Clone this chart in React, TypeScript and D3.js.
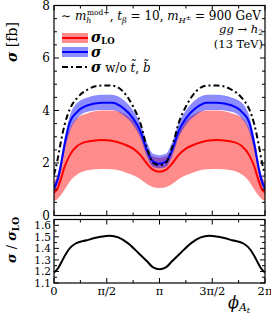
import React from "react";
import * as d3 from "d3";

// phi in units of pi
const phiTop = [0, 0.03, 0.06, 0.1, 0.15, 0.22, 0.32, 0.45, 0.55, 0.66, 0.75, 0.82, 0.88, 0.94, 1.0, 1.06, 1.12, 1.18, 1.25, 1.34, 1.45, 1.55, 1.68, 1.78, 1.85, 1.9, 1.94, 1.97, 2.0];
const sigmaLO = [0.88, 1.0, 1.32, 1.85, 2.3, 2.65, 2.82, 2.88, 2.85, 2.72, 2.55, 2.3, 1.98, 1.74, 1.67, 1.74, 1.98, 2.3, 2.55, 2.72, 2.85, 2.88, 2.82, 2.65, 2.3, 1.85, 1.32, 1.0, 0.88];
const sigmaLOUp = [1.3, 1.5, 1.95, 2.7, 3.3, 3.72, 3.9, 4.0, 4.0, 3.88, 3.6, 3.1, 2.45, 2.25, 2.2, 2.25, 2.45, 3.1, 3.6, 3.88, 4.0, 4.0, 3.9, 3.72, 3.3, 2.7, 1.95, 1.5, 1.3];
const sigmaLOLo = [0.55, 0.62, 0.75, 0.98, 1.3, 1.56, 1.72, 1.77, 1.76, 1.67, 1.53, 1.38, 1.2, 1.08, 1.05, 1.08, 1.2, 1.38, 1.53, 1.67, 1.76, 1.77, 1.72, 1.56, 1.3, 0.98, 0.75, 0.62, 0.55];
const sigma = [1.05, 1.3, 1.8, 2.7, 3.55, 3.95, 4.2, 4.3, 4.3, 4.08, 3.7, 3.2, 2.5, 2.05, 1.97, 2.05, 2.5, 3.2, 3.7, 4.08, 4.3, 4.3, 4.2, 3.95, 3.55, 2.7, 1.8, 1.3, 1.05];
const sigmaUp = [1.2, 1.5, 2.05, 2.95, 3.8, 4.3, 4.5, 4.6, 4.6, 4.4, 4.0, 3.5, 2.8, 2.35, 2.3, 2.35, 2.8, 3.5, 4.0, 4.4, 4.6, 4.6, 4.5, 4.3, 3.8, 2.95, 2.05, 1.5, 1.2];
const sigmaLo = [0.92, 1.15, 1.6, 2.45, 3.2, 3.7, 3.95, 4.02, 4.02, 3.82, 3.45, 2.95, 2.25, 1.85, 1.8, 1.85, 2.25, 2.95, 3.45, 3.82, 4.02, 4.02, 3.95, 3.7, 3.2, 2.45, 1.6, 1.15, 0.92];
const sigmaNoSq = [1.55, 2.05, 2.7, 3.45, 4.05, 4.48, 4.8, 4.95, 4.95, 4.7, 4.15, 3.5, 2.6, 2.0, 1.92, 2.0, 2.6, 3.5, 4.15, 4.7, 4.95, 4.95, 4.8, 4.48, 4.05, 3.45, 2.7, 2.05, 1.55];

const phiRatio = [0, 0.04, 0.09, 0.14, 0.2, 0.31, 0.44, 0.53, 0.61, 0.7, 0.8, 0.88, 0.94, 1.0, 1.06, 1.12, 1.2, 1.3, 1.39, 1.47, 1.56, 1.69, 1.8, 1.86, 1.91, 1.96, 2.0];
const ratio = [1.19, 1.23, 1.315, 1.39, 1.44, 1.47, 1.5, 1.51, 1.495, 1.445, 1.36, 1.29, 1.235, 1.22, 1.235, 1.29, 1.36, 1.445, 1.495, 1.51, 1.5, 1.47, 1.44, 1.39, 1.315, 1.23, 1.19];

const xTicks = [0, 0.5, 1, 1.5, 2];
const xTickLabels = ["0", "π/2", "π", "3π/2", "2π"];
const yTopTicks = [0, 2, 4, 6, 8];
const yBotTicks = [1.1, 1.2, 1.3, 1.4, 1.5, 1.6];

const FONT = "'DejaVu Serif', 'Liberation Serif', serif";

export default function App() {
  const x = d3.scaleLinear().domain([0, 2]).range([54, 265]);
  const yT = d3.scaleLinear().domain([0, 8]).range([215.5, 5.5]);
  const yB = d3.scaleLinear().domain([1.1, 1.65]).range([283, 219.5]);

  const idx = d3.range(phiTop.length);
  const curve = d3.curveMonotoneX;
  const band = (up: number[], lo: number[]) =>
    d3.area<number>().x(i => x(phiTop[i])).y0(i => yT(lo[i])).y1(i => yT(up[i])).curve(curve)(idx) || "";
  const line = (v: number[]) =>
    d3.line<number>().x(i => x(phiTop[i])).y(i => yT(v[i])).curve(curve)(idx) || "";
  const ratioPath =
    d3.line<number>().x(i => x(phiRatio[i])).y(i => yB(ratio[i])).curve(curve)(d3.range(phiRatio.length)) || "";

  const minorX = d3.range(0, 2.01, 0.25);
  const minorYT = d3.range(0, 8.01, 0.5);
  const minorYB = d3.range(1.1, 1.651, 0.05);

  const frame = (yTop: number, yBot: number, key: string) => (
    <g key={key}>
      <rect x={54} y={yTop} width={211} height={yBot - yTop} fill="none" stroke="#000" strokeWidth={1.2} />
      {minorX.map(t => {
        const major = Math.abs(t * 2 - Math.round(t * 2)) < 1e-6;
        const l = major ? 5 : 3;
        return (
          <g key={t}>
            <line x1={x(t)} x2={x(t)} y1={yBot} y2={yBot - l} stroke="#000" strokeWidth={1} />
            <line x1={x(t)} x2={x(t)} y1={yTop} y2={yTop + l} stroke="#000" strokeWidth={1} />
          </g>
        );
      })}
    </g>
  );

  return (
    <svg width={271} height={325} style={{ position: "absolute", left: 0, top: 0, background: "#fff" }} fontFamily={FONT}>
      {/* top panel */}
      <defs>
        <clipPath id="clipTop">
          <rect x={54} y={5.5} width={211} height={210} />
        </clipPath>
      </defs>
      <g clipPath="url(#clipTop)">
        <path d={band(sigmaLOUp, sigmaLOLo)} fill="#ff8c8c" />
        <path d={band(sigmaUp, sigmaLo)} fill="#0000ff" fillOpacity={0.45} />
        <path d={line(sigmaLO)} fill="none" stroke="#ff0000" strokeWidth={2} />
        <path d={line(sigma)} fill="none" stroke="#0000ff" strokeWidth={2} />
        <path d={line(sigmaNoSq)} fill="none" stroke="#000" strokeWidth={2} strokeDasharray="6,3,2,3" />
      </g>
      {frame(5.5, 215.5, "ft")}
      {minorYT.map(t => {
        const l = t % 2 === 0 ? 5 : 3;
        return (
          <g key={t}>
            <line x1={54} x2={54 + l} y1={yT(t)} y2={yT(t)} stroke="#000" />
            <line x1={265} x2={265 - l} y1={yT(t)} y2={yT(t)} stroke="#000" />
          </g>
        );
      })}
      {yTopTicks.map(t => (
        <text key={t} x={50} y={yT(t) + 4} fontSize={12} textAnchor="end">{t}</text>
      ))}
      <text transform="translate(17,42) rotate(-90)" fontSize={14} textAnchor="middle">
        <tspan fontWeight="bold" fontStyle="italic">σ</tspan>
        <tspan> [fb]</tspan>
      </text>

      {/* annotation */}
      <text x={61} y={20} fontSize={12}>
        <tspan>∼ </tspan>
        <tspan fontStyle="italic">m</tspan>
        <tspan fontSize={8} fontStyle="italic" dy={2.5}>h</tspan>
        <tspan fontSize={7.5} dx={-4.5} dy={-8}>mod+</tspan>
        <tspan dy={5.5}>, </tspan>
        <tspan fontStyle="italic">t</tspan>
        <tspan fontSize={8} fontStyle="italic" dy={2.5}>β</tspan>
        <tspan dy={-2.5}> = 10, </tspan>
        <tspan fontStyle="italic">m</tspan>
        <tspan fontSize={8} fontStyle="italic" dy={2.5}>H</tspan>
        <tspan fontSize={6.5} dy={-3}>±</tspan>
        <tspan dy={0.5}> = 900 GeV</tspan>
      </text>
      <text x={263} y={33} fontSize={11.5} textAnchor="end">
        <tspan fontStyle="italic">gg</tspan>
        <tspan> → </tspan>
        <tspan fontStyle="italic">h</tspan>
        <tspan fontSize={7.5} dy={1.5}>2</tspan>
      </text>
      <text x={263} y={48} fontSize={11.5} textAnchor="end">(13 TeV)</text>

      {/* legend */}
      <rect x={62} y={33} width={26} height={10} fill="#ff8c8c" />
      <line x1={62} x2={88} y1={38} y2={38} stroke="#ff0000" strokeWidth={2} />
      <text x={91} y={42} fontSize={14}>
        <tspan fontWeight="bold" fontStyle="italic">σ</tspan>
        <tspan fontSize={8.5} fontWeight="bold" dy={1.5}>LO</tspan>
      </text>
      <rect x={62} y={47} width={26} height={10} fill="#0000ff" fillOpacity={0.45} />
      <line x1={62} x2={88} y1={52} y2={52} stroke="#0000ff" strokeWidth={2} />
      <text x={91} y={56.5} fontSize={14}>
        <tspan fontWeight="bold" fontStyle="italic">σ</tspan>
      </text>
      <line x1={62} x2={88} y1={67} y2={67} stroke="#000" strokeWidth={2} strokeDasharray="6,3,2,3" />
      <text x={91} y={71.5} fontSize={12}>
        <tspan fontWeight="bold" fontStyle="italic" fontSize={14}>σ</tspan>
        <tspan> w/o </tspan>
        <tspan fontStyle="italic">t̃</tspan>
        <tspan>, </tspan>
        <tspan fontStyle="italic">b̃</tspan>
      </text>

      {/* bottom panel */}
      <path d={ratioPath} fill="none" stroke="#000" strokeWidth={2} />
      {frame(219.5, 283, "fb")}
      {minorYB.map((t, i) => {
        const l = i % 2 === 0 ? 5 : 3;
        return (
          <g key={i}>
            <line x1={54} x2={54 + l} y1={yB(t)} y2={yB(t)} stroke="#000" />
            <line x1={265} x2={265 - l} y1={yB(t)} y2={yB(t)} stroke="#000" />
          </g>
        );
      })}
      {yBotTicks.map(t => (
        <text key={t} x={51} y={yB(t) + 4} fontSize={10.5} textAnchor="end">{t.toFixed(1)}</text>
      ))}
      <text transform="translate(16,240) rotate(-90)" fontSize={13} textAnchor="middle">
        <tspan fontWeight="bold" fontStyle="italic">σ</tspan>
        <tspan> / </tspan>
        <tspan fontWeight="bold" fontStyle="italic">σ</tspan>
        <tspan fontSize={9} fontWeight="bold" dy={3}>LO</tspan>
      </text>
      {xTicks.map((t, i) => (
        <text key={t} x={x(t)} y={295} fontSize={11.5} textAnchor="middle">{xTickLabels[i]}</text>
      ))}
      <text x={228} y={308} fontSize={16}>
        <tspan fontStyle="italic">ϕ</tspan>
        <tspan fontSize={11} fontStyle="italic" dy={3}>A</tspan>
        <tspan fontSize={8} fontStyle="italic" dy={2}>t</tspan>
      </text>
    </svg>
  );
}
